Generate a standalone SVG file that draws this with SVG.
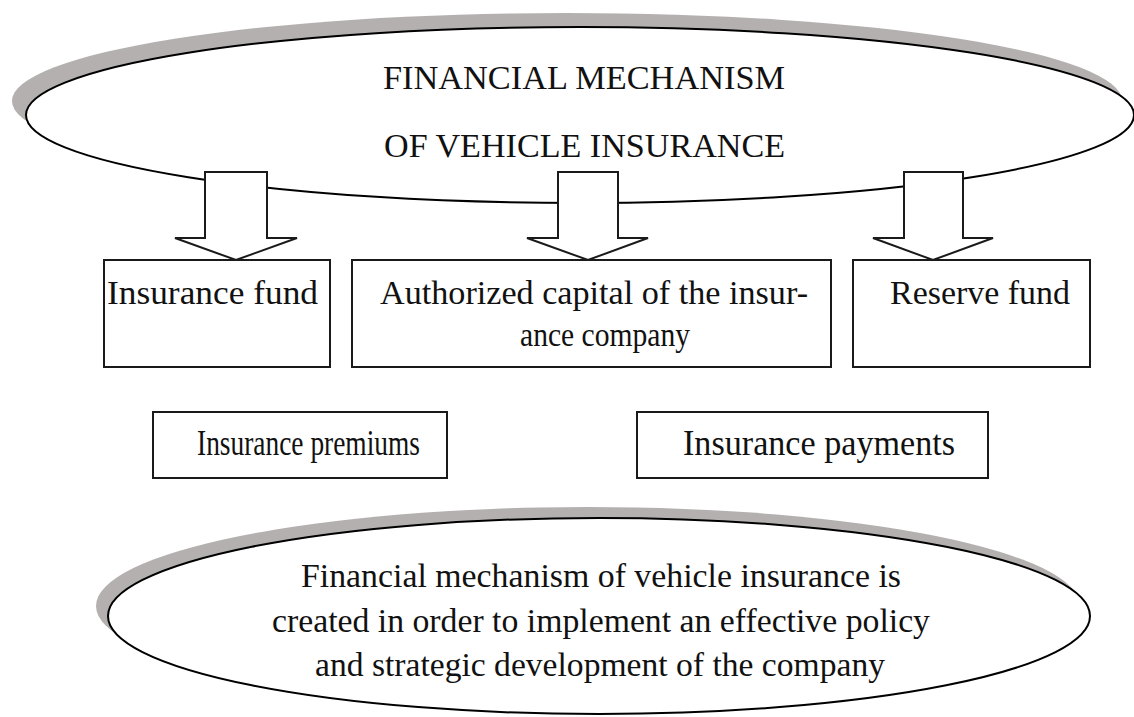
<svg xmlns="http://www.w3.org/2000/svg" width="1134" height="717" viewBox="0 0 1134 717">
<defs>
<style>
.shadow{fill:#b4b0af;stroke:none}
.ell{fill:#ffffff;stroke:#000;stroke-width:2}
.box{fill:#ffffff;stroke:#1a1a1a;stroke-width:2}
.arrow{fill:#ffffff;stroke:#1a1a1a;stroke-width:2;stroke-linejoin:miter}
.t{font-family:"Liberation Serif","Times New Roman",serif;font-size:33px;fill:#111111}
.s{font-size:35px}
</style>
</defs>
<rect x="0" y="0" width="1134" height="717" fill="#ffffff"/>
<g id="top-ellipse">
<ellipse class="shadow" cx="567" cy="101" rx="555" ry="88"/>
<ellipse class="ell" cx="580" cy="115" rx="554" ry="88"/>
<text class="t" x="383" y="89" textLength="402" lengthAdjust="spacingAndGlyphs">FINANCIAL MECHANISM</text>
<text class="t" x="384" y="157" textLength="401" lengthAdjust="spacingAndGlyphs">OF VEHICLE INSURANCE</text>
</g>
<g id="connectors">
<polygon class="arrow" points="205,172 267,172 267,238 297,238 236,260 175,238 205,238"/>
<polygon class="arrow" points="558,172 618,172 618,238 648,238 588,260 527,238 558,238"/>
<polygon class="arrow" points="904,172 963,172 963,238 993,238 933,260 873,238 904,238"/>
</g>
<g id="insurance-fund">
<rect class="box" x="104" y="260" width="226" height="107"/>
<text class="t" x="107" y="304" textLength="211" lengthAdjust="spacingAndGlyphs">Insurance fund</text>
</g>
<g id="authorized-capital">
<rect class="box" x="352" y="260" width="479" height="107"/>
<text class="t" x="380" y="304" textLength="428" lengthAdjust="spacingAndGlyphs">Authorized capital of the insur-</text>
<text class="t" x="520" y="346" textLength="170" lengthAdjust="spacingAndGlyphs">ance company</text>
</g>
<g id="reserve-fund">
<rect class="box" x="853" y="260" width="237" height="107"/>
<text class="t" x="890" y="304" textLength="180" lengthAdjust="spacingAndGlyphs">Reserve fund</text>
</g>
<g id="insurance-premiums">
<rect class="box" x="153" y="412" width="294" height="66"/>
<text class="t s" x="197" y="455" textLength="223" lengthAdjust="spacingAndGlyphs">Insurance premiums</text>
</g>
<g id="insurance-payments">
<rect class="box" x="637" y="412" width="351" height="66"/>
<text class="t s" x="683" y="455" textLength="272" lengthAdjust="spacingAndGlyphs">Insurance payments</text>
</g>
<g id="bottom-ellipse">
<ellipse class="shadow" cx="588" cy="606" rx="492" ry="99"/>
<ellipse class="ell" cx="599" cy="616" rx="491" ry="98"/>
<text class="t" x="301" y="587" textLength="600" lengthAdjust="spacingAndGlyphs">Financial mechanism of vehicle insurance is</text>
<text class="t" x="272" y="632" textLength="658" lengthAdjust="spacingAndGlyphs">created in order to implement an effective policy</text>
<text class="t" x="315" y="676" textLength="570" lengthAdjust="spacingAndGlyphs">and strategic development of the company</text>
</g>
</svg>
